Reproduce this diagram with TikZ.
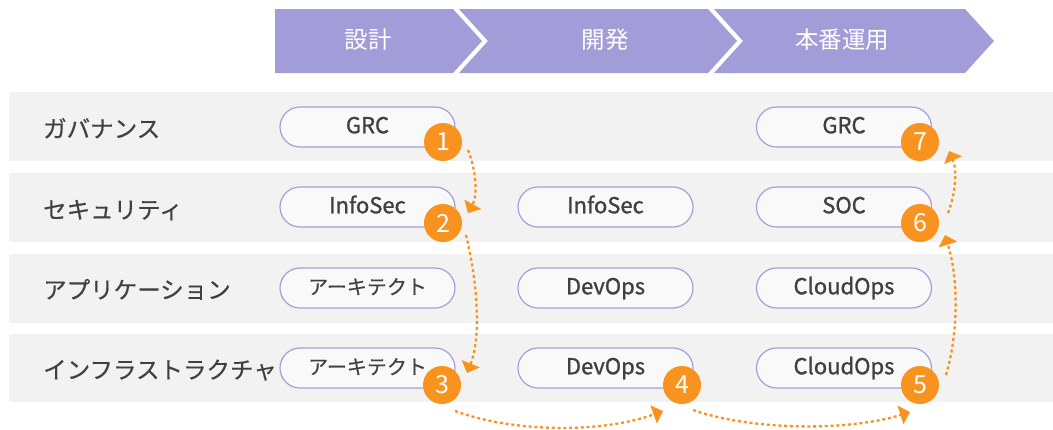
\documentclass[tikz,border=0pt]{standalone}
\usepackage{fontspec}
\setmainfont{Noto Sans CJK JP}
\newfontfamily\medfont{Noto Sans CJK JP}[FakeBold=1.2]
\newfontfamily\lblfont{Noto Sans CJK JP}[FakeBold=0.4]
\usetikzlibrary{arrows.meta,calc}
\definecolor{chev}{RGB}{162,157,216}
\definecolor{bandgray}{RGB}{242,242,242}
\definecolor{pillfill}{RGB}{249,249,249}
\definecolor{pillline}{RGB}{166,158,219}
\definecolor{orng}{RGB}{247,147,30}
\definecolor{txt}{RGB}{64,64,64}
\begin{document}
\begin{tikzpicture}[x=1pt,y=-1pt,
  chevron/.style={fill=chev},
  bandrow/.style={fill=bandgray},
  phase/.style={text=white, font=\fontsize{23.5}{24}\selectfont, inner sep=0, anchor=base},
  rowlabel/.style={text=txt, font=\lblfont\fontsize{23.5}{24}\selectfont, inner sep=0, anchor=base west},
  pill/.style={draw=pillline, line width=1.2pt, fill=pillfill, rounded corners=20pt,
    minimum width=175pt, minimum height=40pt, inner sep=0, text=txt,
    font=\medfont\fontsize{22}{22}\selectfont, text height=16.5pt, text depth=4pt},
  kanapill/.style={pill, font=\lblfont\fontsize{20}{20}\selectfont},
  badge/.style={circle, fill=orng, minimum size=38pt, inner sep=0, text=white,
    font=\fontsize{25}{25}\selectfont},
  flow/.style={orng, line width=2.3pt, dash pattern=on 3pt off 2.8pt,
    -{Triangle[length=10pt,width=19pt]}}]
\useasboundingbox (0,0) rectangle (1053,429);

% phase chevrons
\fill[chevron] (275,9) -- (453,9) -- (482,41) -- (453,73) -- (275,73) -- cycle;
\fill[chevron] (459,9) -- (708,9) -- (737,41) -- (708,73) -- (459,73) -- (488,41) -- cycle;
\fill[chevron] (714,9) -- (965,9) -- (994,41) -- (965,73) -- (714,73) -- (743,41) -- cycle;
\node[phase] (ph1) at (368,48.5) {設計};
\node[phase] (ph2) at (605,48.5) {開発};
\node[phase] (ph3) at (842,48.5) {本番運用};

% row bands
\fill[bandrow] (9,92) rectangle (1053,161);
\fill[bandrow] (9,173) rectangle (1053,242);
\fill[bandrow] (9,254) rectangle (1053,323);
\fill[bandrow] (9,334) rectangle (1053,402);

\node[rowlabel] (r1) at (43,137.5) {ガバナンス};
\node[rowlabel] (r2) at (43,218.5) {セキュリティ};
\node[rowlabel] (r3) at (43,298.5) {アプリケーション};
\node[rowlabel] (r4) at (43,378.5) {インフラストラクチャ};

% pills
\node[pill] (g1) at (367.5,127) {GRC};
\node[pill] (s1) at (367.5,207) {InfoSec};
\node[kanapill] (a1) at (367.5,288) {アーキテクト};
\node[kanapill] (i1) at (367.5,368) {アーキテクト};
\node[pill] (s2) at (605.5,207) {InfoSec};
\node[pill] (a2) at (605.5,288) {DevOps};
\node[pill] (i2) at (605.5,368) {DevOps};
\node[pill] (g3) at (844,127) {GRC};
\node[pill] (s3) at (844,207) {SOC};
\node[pill] (a3) at (844,288) {CloudOps};
\node[pill] (i3) at (844,368) {CloudOps};

% badges
\node[badge] (c1) at (443,142) {1};
\node[badge] (c2) at (443,223) {2};
\node[badge] (c3) at (442,385) {3};
\node[badge] (c4) at (682,385) {4};
\node[badge] (c5) at (920,385) {5};
\node[badge] (c6) at (920,223) {6};
\node[badge] (c7) at (920,142) {7};

% flow arrows
\draw[flow] ($(c1)+(25,8)$) .. controls +(8,20) and +(10,-18) .. ($(c2)+(25,-10)$);
\draw[flow] ($(c2)+(23,12)$) .. controls +(12,50) and +(14,-35) .. ($(c3)+(25,-12)$);
\draw[flow] ($(c3)+(13,26)$) .. controls +(60,22) and +(-60,22) .. ($(c4)+(-19,26)$);
\draw[flow] ($(c4)+(11,25)$) .. controls +(60,21) and +(-60,19) .. ($(c5)+(-10,27)$);
\draw[flow] ($(c5)+(26,-10)$) .. controls +(12,-40) and +(14,45) .. ($(c6)+(25,12)$);
\draw[flow] ($(c6)+(28,-10)$) .. controls +(8,-20) and +(8,18) .. ($(c7)+(29,9)$);
\end{tikzpicture}
\end{document}
